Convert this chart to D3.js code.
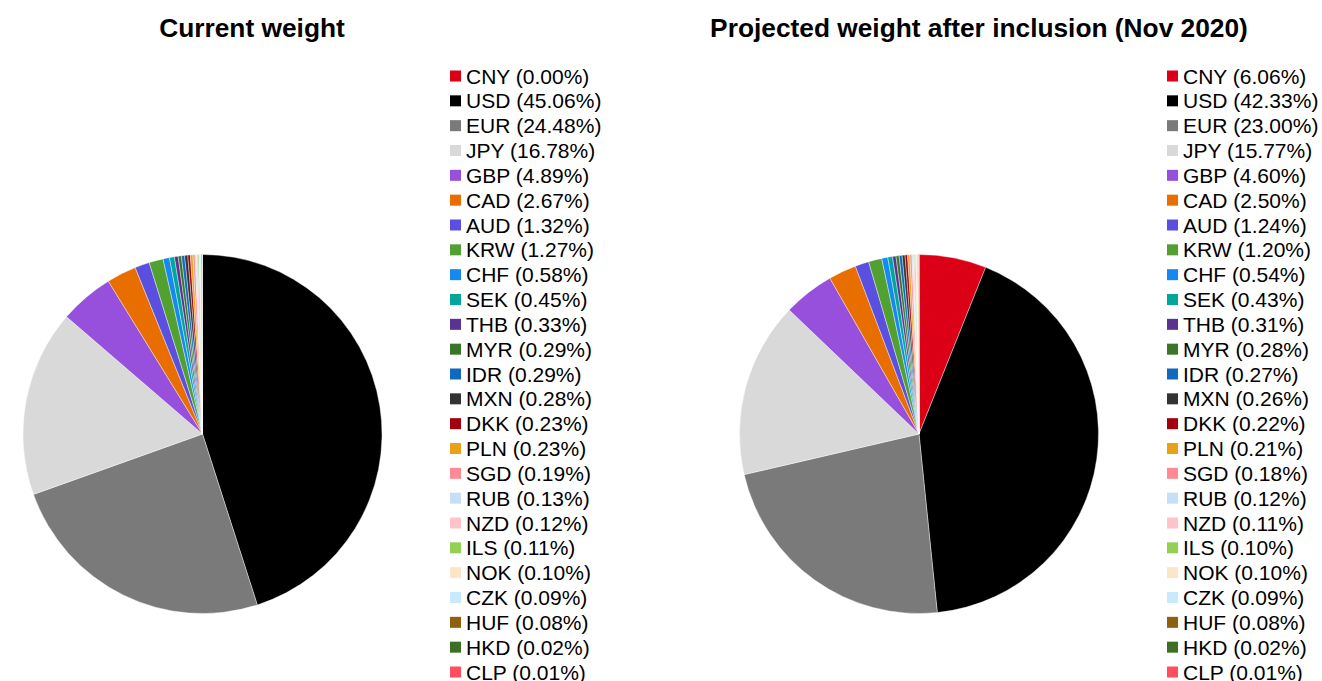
<!DOCTYPE html>
<html>
<head>
<meta charset="utf-8">
<script src="https://cdn.jsdelivr.net/npm/d3@7"></script>
<style>
  body { margin: 0; background: #fff; }
  svg { display: block; font-family: 'Liberation Sans', Arial, sans-serif; }
</style>
</head>
<body>
<div id="chart"></div>
<script>
// currencies in index order
const currencies = ['CNY', 'USD', 'EUR', 'JPY', 'GBP', 'CAD', 'AUD', 'KRW', 'CHF', 'SEK', 'THB', 'MYR', 'IDR',
  'MXN', 'DKK', 'PLN', 'SGD', 'RUB', 'NZD', 'ILS', 'NOK', 'CZK', 'HUF', 'HKD', 'CLP']
const currentWeight = [0.00, 45.06, 24.48, 16.78, 4.89, 2.67, 1.32, 1.27, 0.58, 0.45, 0.33, 0.29, 0.29,
  0.28, 0.23, 0.23, 0.19, 0.13, 0.12, 0.11, 0.10, 0.09, 0.08, 0.02, 0.01]
const projectedWeight = [6.06, 42.33, 23.00, 15.77, 4.60, 2.50, 1.24, 1.20, 0.54, 0.43, 0.31, 0.28, 0.27,
  0.26, 0.22, 0.21, 0.18, 0.12, 0.11, 0.10, 0.10, 0.09, 0.08, 0.02, 0.01]
const colors = ['#dc0016', '#000000', '#7a7a7a', '#d9d9d9', '#9650dc', '#e86e00', '#5b4fe0', '#52a031',
  '#1589f0', '#00a59c', '#5a3292', '#3b7527', '#1069bf', '#333333', '#a2000e', '#e9a217', '#ff8a94',
  '#c6dff7', '#ffc3ca', '#93d152', '#fbe6c6', '#c9eafa', '#8f610c', '#3b7024', '#ff4f5e']

const width = 1322
const height = 681

const svg = d3.select('#chart')
  .append('svg')
  .attr('width', width)
  .attr('height', height)

const colorScale = d3.scaleOrdinal().domain(currencies).range(colors)

const pie = d3.pie().sort(null).value(d => d.value)
const arc = d3.arc().innerRadius(0).outerRadius(179.5)

const panels = [
  { title: 'Current weight', values: currentWeight, cx: 202.5, titleX: 252, legendX: 450 },
  { title: 'Projected weight after inclusion (Nov 2020)', values: projectedWeight, cx: 919, titleX: 979, legendX: 1167 }
]

panels.forEach(p => {
  const data = currencies.map((c, i) => ({ name: c, value: p.values[i] }))

  svg.append('text')
    .attr('x', p.titleX)
    .attr('y', 37)
    .attr('text-anchor', 'middle')
    .attr('font-size', 26.3)
    .attr('font-weight', 'bold')
    .attr('fill', '#000')
    .text(p.title)

  const g = svg.append('g')
    .attr('transform', 'translate(' + p.cx + ',434)')

  g.selectAll('path')
    .data(pie(data))
    .enter()
    .append('path')
    .attr('d', arc)
    .attr('fill', d => colorScale(d.data.name))
    .attr('stroke', '#fff')
    .attr('stroke-width', 0.4)

  // legend
  const rowScale = d3.scaleLinear().domain([0, currencies.length - 1]).range([76, 672])
  const legend = svg.append('g')
  const rows = legend.selectAll('g')
    .data(data)
    .enter()
    .append('g')
    .attr('transform', (d, i) => 'translate(' + p.legendX + ',' + rowScale(i) + ')')

  rows.append('rect')
    .attr('x', 0)
    .attr('y', -5.5)
    .attr('width', 11)
    .attr('height', 11)
    .attr('fill', d => colorScale(d.name))

  rows.append('text')
    .attr('x', 16)
    .attr('y', 7.5)
    .attr('font-size', 21)
    .attr('fill', '#000')
    .text(d => d.name + ' (' + d.value.toFixed(2) + '%)')
})
</script>
</body>
</html>
